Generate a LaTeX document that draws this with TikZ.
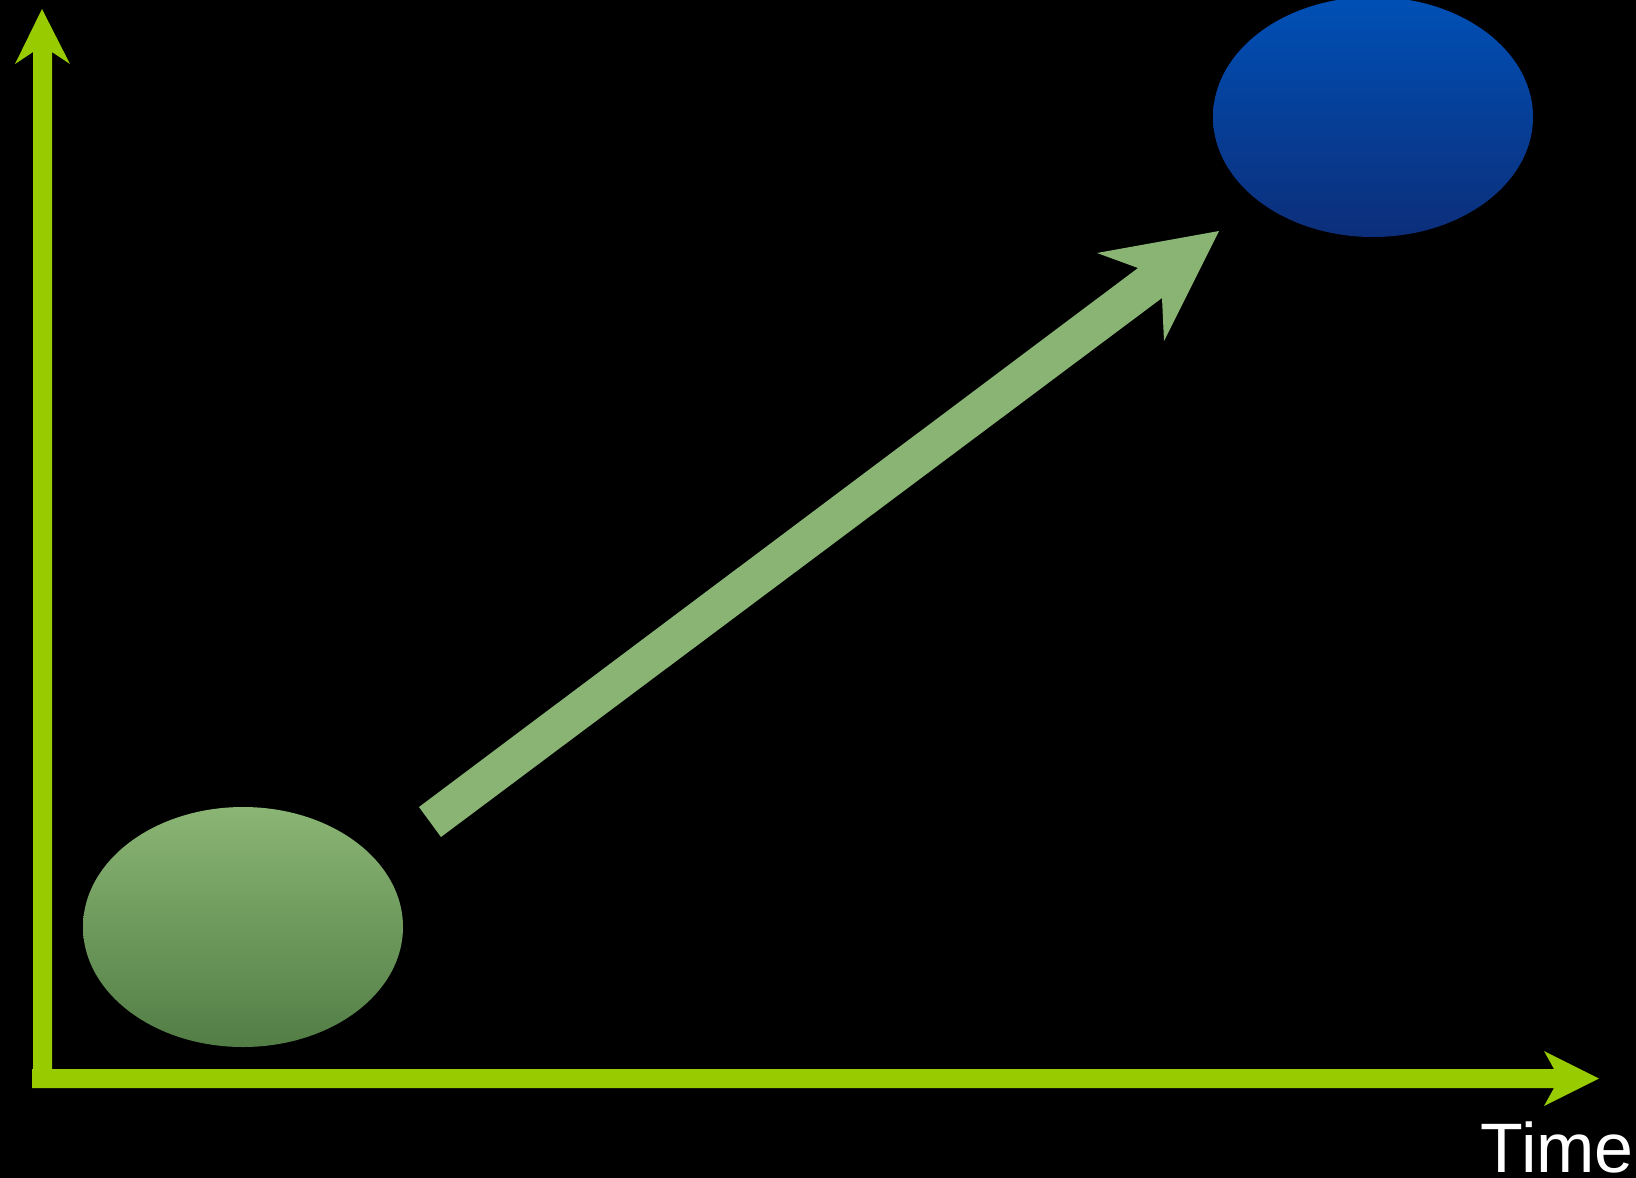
\documentclass[tikz,border=0pt]{standalone}
\usepackage{fontspec}
\setmainfont{Liberation Sans}
\usetikzlibrary{shapes.geometric}
\definecolor{axisgreen}{RGB}{153,204,0}
\definecolor{arrowgreen}{RGB}{137,180,116}
\definecolor{gtop}{RGB}{138,181,116}
\definecolor{gmid}{RGB}{110,157,94}
\definecolor{gbot}{RGB}{82,126,70}
\definecolor{btop}{RGB}{0,80,182}
\definecolor{bmid}{RGB}{10,64,152}
\definecolor{bbot}{RGB}{12,46,122}
\tikzset{
  blob/.style={ellipse, inner sep=0pt, minimum width=320pt, minimum height=240pt},
  greenblob/.style={blob, top color=gtop, middle color=gmid, bottom color=gbot},
  blueblob/.style={blob, top color=btop, middle color=bmid, bottom color=bbot},
  axisfill/.style={fill=axisgreen},
  arrowfill/.style={fill=arrowgreen},
  label/.style={text=white, inner sep=0pt, font=\fontsize{70}{72}\selectfont}
}
\begin{document}
\begin{tikzpicture}[x=1pt,y=-1pt]
\fill[black] (0,0) rectangle (1636,1178);
\useasboundingbox (0,0) rectangle (1636,1178);
\clip (0,0) rectangle (1636,1178);
% axes
\path[axisfill] (32,1088) -- (32,1069) -- (33,1069) -- (33,52) -- (15,64) -- (42,9)
  -- (70,64) -- (52,52) -- (52,1069) -- (1554,1069) -- (1544,1051) -- (1599,1078.5)
  -- (1544,1106) -- (1554,1088) -- cycle;
% ellipses
\node[greenblob] (start) at (243,927) {};
\node[blueblob] (goal) at (1373,117) {};
% diagonal arrow
\coordinate (t1) at (419,807);
\coordinate (t2) at (441,837);
\coordinate (n1) at (1138,268);
\coordinate (b1) at (1097,253);
\coordinate (tip) at (1219,231);
\coordinate (b2) at (1164,341);
\coordinate (n2) at (1162,298);
\path[arrowfill] (t1) -- (n1) -- (b1) -- (tip) -- (b2) -- (n2) -- (t2) -- cycle;
% label
\node[label, anchor=base east] (time) at (1634,1172) {Time};
\end{tikzpicture}
\end{document}
